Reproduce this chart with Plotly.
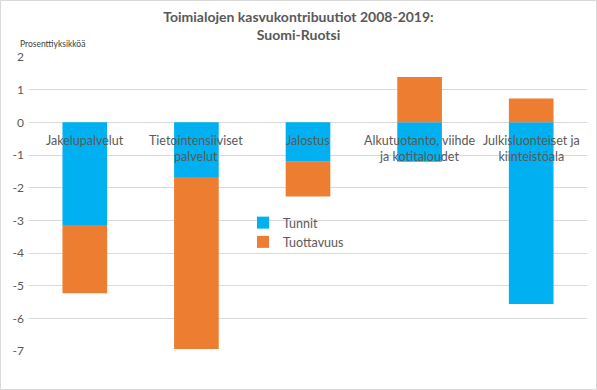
import plotly.graph_objects as go

categories = ["Jakelupalvelut", "Tietointensiiviset palvelut", "Jalostus",
              "Alkutuotanto, viihde ja kotitaloudet", "Julkisluonteiset ja kiinteistöala"]
category_labels = ["Jakelupalvelut", "Tietointensiiviset<br>palvelut", "Jalostus",
                   "Alkutuotanto, viihde<br>ja kotitaloudet", "Julkisluonteiset ja<br>kiinteistöala"]
tunnit = [-3.14, -1.67, -1.21, -1.21, -5.56]
tuottavuus = [-2.09, -5.27, -1.06, 1.39, 0.73]
y_ticks = [2, 1, 0, -1, -2, -3, -4, -5, -6, -7]
y_ticktext = ["2", "1", "0", "-1", "-2", "-3", "-4", "-5", "-6", "-7"]

W, H = 597, 390
L, R, T, B = 29, 10, 57, 39
PW, PH = W - L - R, H - T - B

GRAY = "#595959"
FONT = "Lato"

fig = go.Figure()
fig.add_trace(go.Bar(x=categories, y=tunnit, name="Tunnit", marker_color="#00B0F0",
                     marker_line_width=0, width=0.4, legendgroup="a"))
fig.add_trace(go.Bar(x=categories, y=tuottavuus, name="Tuottavuus", marker_color="#ED7D31",
                     marker_line_width=0, width=0.4, legendgroup="b"))

annotations = []
for cat, lab in zip(categories, category_labels):
    annotations.append(dict(x=cat, y=0, xref="x", yref="y", text=lab, showarrow=False,
                            yanchor="top", yshift=-9, font=dict(family=FONT, size=12.5, color=GRAY)))
annotations.append(dict(x=(18 - L) / PW, y=(H - B - 44) / PH, xref="paper", yref="paper",
                        text="Prosenttiyksikköä", showarrow=False, xanchor="left", yanchor="middle",
                        font=dict(family=FONT, size=8.5, color="#404040")))

fig.update_layout(
    width=W, height=H,
    margin=dict(l=L, r=R, t=T, b=B),
    barmode="relative",
    bargap=0.6,
    paper_bgcolor="white", plot_bgcolor="white",
    title=dict(text="Toimialojen kasvukontribuutiot 2008-2019:<br>Suomi-Ruotsi",
               x=0.5, xanchor="center", y=1 - 22 / H, yanchor="middle",
               font=dict(family=FONT, size=14, color=GRAY, weight="bold")),
    xaxis=dict(showticklabels=False, showgrid=False, zeroline=False, showline=False, ticks=""),
    yaxis=dict(range=[-7, 2], tickvals=y_ticks, ticktext=y_ticktext, showgrid=True,
               gridcolor="#D9D9D9", gridwidth=1,
               zeroline=True, zerolinecolor="#D9D9D9", zerolinewidth=1, showline=False,
               tickfont=dict(family=FONT, size=12, color=GRAY), ticks="", ticklabelstandoff=4),
    legend=dict(x=(243 - L) / PW, y=(H - B - 208) / PH, xanchor="left", yanchor="top",
                bgcolor="rgba(0,0,0,0)", font=dict(family=FONT, size=12.5, color=GRAY),
                tracegroupgap=8, traceorder="normal"),
    annotations=annotations,
    shapes=[dict(type="rect", xref="paper", yref="paper",
                 x0=(0.5 - L) / PW, x1=(W - 0.5 - L) / PW,
                 y0=(H - B - (H - 0.5)) / PH, y1=(H - B - 0.5) / PH,
                 line=dict(color="#D9D9D9", width=1), layer="below")],
)

fig.write_html("out.html", config={"displayModeBar": False})
with open("out.html", encoding="utf-8") as f:
    html = f.read()
html = html.replace("<head>", "<head><style>html,body{margin:0;padding:0;overflow:hidden}</style>", 1)
with open("out.html", "w", encoding="utf-8") as f:
    f.write(html)
